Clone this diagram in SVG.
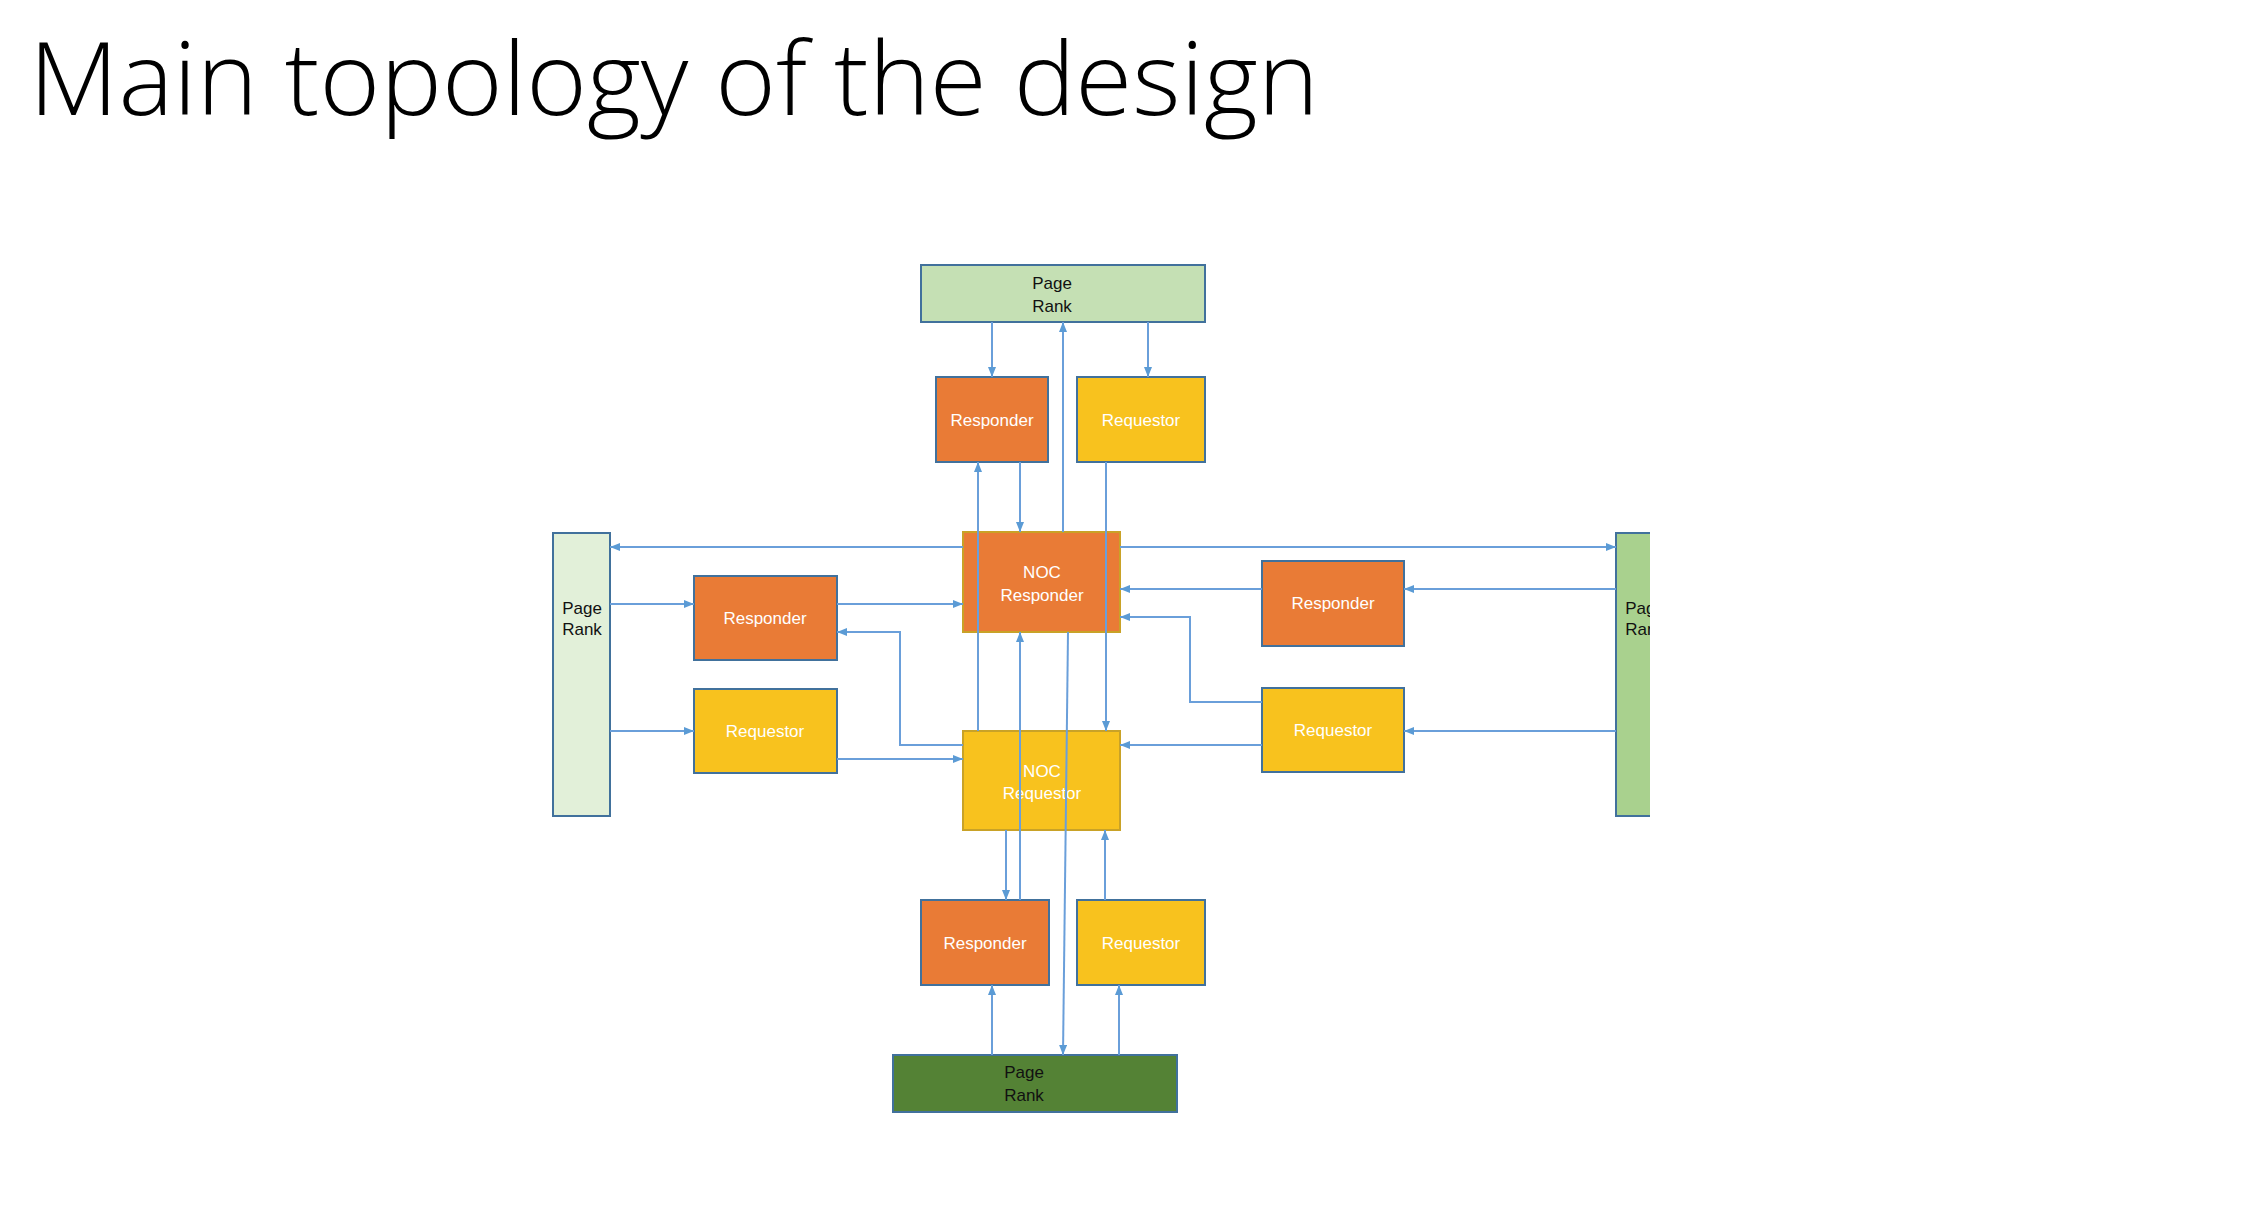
<svg xmlns="http://www.w3.org/2000/svg" width="2256" height="1232" viewBox="0 0 2256 1232">
  <defs>
    <marker id="arrow" viewBox="0 0 10 8" refX="10" refY="4" markerWidth="10" markerHeight="8" markerUnits="userSpaceOnUse" orient="auto">
      <path d="M0,0 L10,4 L0,8 z" fill="#5B9BD5"/>
    </marker>
    <clipPath id="pageClip">
      <rect x="0" y="0" width="1650" height="1232"/>
    </clipPath>
  </defs>
  <style>
    .title { font-family: "Open Sans", "Liberation Sans", sans-serif; font-weight: 300; font-size: 102px; fill: #000; }
    .box { stroke: #41719C; stroke-width: 2; }
    .noc { stroke: #C9A227; stroke-width: 2; }
    .resp { fill: #E97B36; }
    .req { fill: #F8C21E; }
    .lbl { font-family: "Liberation Sans", Arial, sans-serif; font-size: 17px; fill: #FFFFFF; text-anchor: middle; }
    .pr { font-family: "Liberation Sans", Arial, sans-serif; font-size: 17px; fill: #111111; text-anchor: middle; }
    .wire { fill: none; stroke: #6A9FDA; stroke-width: 2; }
    .arr { marker-end: url(#arrow); }
  </style>

  <rect width="2256" height="1232" fill="#FFFFFF"/>

  <text class="title" x="29" y="115" textLength="1290" lengthAdjust="spacingAndGlyphs">Main topology of the design</text>

  <!-- Page Rank blocks -->
  <g id="pagerank-top">
    <rect class="box" x="921" y="265" width="284" height="57" fill="#C5E0B4"/>
    <text class="pr" x="1052" y="289">Page</text>
    <text class="pr" x="1052" y="312">Rank</text>
  </g>
  <g id="pagerank-left">
    <rect class="box" x="553" y="533" width="57" height="283" fill="#E2F0D9"/>
    <text class="pr" x="582" y="614">Page</text>
    <text class="pr" x="582" y="635">Rank</text>
  </g>
  <g id="pagerank-right" clip-path="url(#pageClip)">
    <rect class="box" x="1616" y="533" width="57" height="283" fill="#A9D18E"/>
    <text class="pr" x="1645" y="614">Page</text>
    <text class="pr" x="1645" y="635">Rank</text>
  </g>
  <g id="pagerank-bottom">
    <rect class="box" x="893" y="1055" width="284" height="57" fill="#548235"/>
    <text class="pr" x="1024" y="1078">Page</text>
    <text class="pr" x="1024" y="1101">Rank</text>
  </g>

  <!-- Top pair -->
  <g id="responder-top">
    <rect class="box resp" x="936" y="377" width="112" height="85"/>
    <text class="lbl" x="992" y="426">Responder</text>
  </g>
  <g id="requestor-top">
    <rect class="box req" x="1077" y="377" width="128" height="85"/>
    <text class="lbl" x="1141" y="426">Requestor</text>
  </g>

  <!-- Left pair -->
  <g id="responder-left">
    <rect class="box resp" x="694" y="576" width="143" height="84"/>
    <text class="lbl" x="765" y="624">Responder</text>
  </g>
  <g id="requestor-left">
    <rect class="box req" x="694" y="689" width="143" height="84"/>
    <text class="lbl" x="765" y="737">Requestor</text>
  </g>

  <!-- Right pair -->
  <g id="responder-right">
    <rect class="box resp" x="1262" y="561" width="142" height="85"/>
    <text class="lbl" x="1333" y="609">Responder</text>
  </g>
  <g id="requestor-right">
    <rect class="box req" x="1262" y="688" width="142" height="84"/>
    <text class="lbl" x="1333" y="736">Requestor</text>
  </g>

  <!-- Bottom pair -->
  <g id="responder-bottom">
    <rect class="box resp" x="921" y="900" width="128" height="85"/>
    <text class="lbl" x="985" y="949">Responder</text>
  </g>
  <g id="requestor-bottom">
    <rect class="box req" x="1077" y="900" width="128" height="85"/>
    <text class="lbl" x="1141" y="949">Requestor</text>
  </g>

  <!-- NoC hubs -->
  <g id="noc-responder">
    <rect class="noc resp" x="963" y="532" width="157" height="100"/>
    <text class="lbl" x="1042" y="578">NOC</text>
    <text class="lbl" x="1042" y="601">Responder</text>
  </g>
  <g id="noc-requestor">
    <rect class="noc req" x="963" y="731" width="157" height="99"/>
    <text class="lbl" x="1042" y="777">NOC</text>
    <text class="lbl" x="1042" y="799">Requestor</text>
  </g>

  <!-- Links -->
  <g id="connectors">
    <!-- top -->
    <line class="wire arr" x1="992" y1="322" x2="992" y2="377"/>
    <line class="wire arr" x1="1148" y1="322" x2="1148" y2="377"/>
    <line class="wire arr" x1="1063" y1="532" x2="1063" y2="322"/>
    <line class="wire arr" x1="1020" y1="462" x2="1020" y2="532"/>
    <line class="wire arr" x1="978" y1="731" x2="978" y2="462"/>
    <line class="wire arr" x1="1106" y1="462" x2="1106" y2="731"/>

    <!-- left -->
    <line class="wire arr" x1="963" y1="547" x2="610" y2="547"/>
    <line class="wire arr" x1="610" y1="604" x2="694" y2="604"/>
    <line class="wire arr" x1="837" y1="604" x2="963" y2="604"/>
    <polyline class="wire arr" points="963,745 900,745 900,632 837,632"/>
    <line class="wire arr" x1="610" y1="731" x2="694" y2="731"/>
    <line class="wire arr" x1="837" y1="759" x2="963" y2="759"/>

    <!-- right -->
    <line class="wire arr" x1="1120" y1="547" x2="1616" y2="547"/>
    <line class="wire arr" x1="1616" y1="589" x2="1404" y2="589"/>
    <line class="wire arr" x1="1262" y1="589" x2="1120" y2="589"/>
    <polyline class="wire arr" points="1262,702 1190,702 1190,617 1120,617"/>
    <line class="wire arr" x1="1616" y1="731" x2="1404" y2="731"/>
    <line class="wire arr" x1="1262" y1="745" x2="1120" y2="745"/>

    <!-- bottom -->
    <line class="wire arr" x1="1006" y1="830" x2="1006" y2="900"/>
    <line class="wire arr" x1="1020" y1="900" x2="1020" y2="632"/>
    <line class="wire arr" x1="1105" y1="900" x2="1105" y2="830"/>
    <line class="wire arr" x1="1068" y1="632" x2="1063" y2="1055"/>
    <line class="wire arr" x1="992" y1="1055" x2="992" y2="985"/>
    <line class="wire arr" x1="1119" y1="1055" x2="1119" y2="985"/>
  </g>
</svg>
